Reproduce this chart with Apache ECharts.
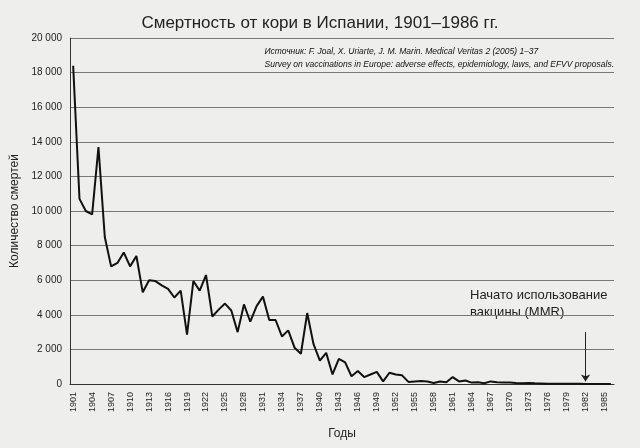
<!DOCTYPE html><html><head><meta charset="utf-8"><script src="https://cdn.jsdelivr.net/npm/echarts@6/dist/echarts.min.js"></script></head><body style="margin:0;background:#eeeeec"><div id="c" style="width:640px;height:448px"></div><script>
const years=[];for(let y=1901;y<=1986;y++)years.push(String(y));
const deaths=[18400,10700,10000,9800,13700,8500,6800,7000,7600,6800,7400,5300,6000,5950,5700,5500,5000,5400,2850,5950,5400,6300,3900,4300,4650,4250,3000,4600,3600,4500,5050,3700,3700,2750,3100,2100,1750,4100,2300,1350,1800,550,1450,1250,450,750,400,550,700,150,650,550,500,120,150,180,150,60,150,100,400,150,200,80,100,40,150,100,90,80,60,50,60,40,30,20,20,15,10,10,8,5,5,4,3,2];
const yTicks=[0,2000,4000,6000,8000,10000,12000,14000,16000,18000,20000];
const ch=echarts.init(document.getElementById('c'));
ch.setOption({backgroundColor:'#eeeeec',textStyle:{fontFamily:'Liberation Sans'},
title:{text:'Смертность от кори в Испании, 1901–1986 гг.',left:'center',top:10,textStyle:{fontSize:17,fontWeight:'normal',color:'#222'}},
graphic:[{type:'text',right:26,top:45,style:{text:'Источник: F. Joal, X. Uriarte, J. M. Marin. Medical Veritas 2 (2005) 1–37\nSurvey on vaccinations in Europe: adverse effects, epidemiology, laws, and EFVV proposals.',fontSize:8.5,lineHeight:13,fill:'#111',align:'right',fontStyle:'italic'}},
{type:'text',left:470,top:287,style:{text:'Начато использование\nвакцины (MMR)',fontSize:13,lineHeight:17,fill:'#222'}}],
grid:{left:70,right:26,top:38,bottom:64},
xAxis:{type:'category',data:years,boundaryGap:true,name:'Годы',nameLocation:'middle',nameGap:44,nameTextStyle:{fontSize:12,color:'#222'},
axisLine:{lineStyle:{color:'#333'}},axisTick:{interval:0,alignWithLabel:true,lineStyle:{color:'#555'}},axisLabel:{interval:2,rotate:90,fontSize:9,color:'#222'}},
yAxis:{type:'value',min:0,max:20000,interval:2000,name:'Количество смертей',nameLocation:'middle',nameGap:44,nameTextStyle:{fontSize:12,color:'#222'},
axisLine:{show:true,lineStyle:{color:'#333'}},axisLabel:{fontSize:10,color:'#222',formatter:v=>yTicks.includes(v)?String(v).replace(/\B(?=(\d{3})+(?!\d))/g,' '):''},splitLine:{lineStyle:{color:'#777'}}},
series:[{type:'line',data:deaths,symbol:'none',lineStyle:{color:'#111',width:2},
markLine:{silent:true,symbol:['none','arrow'],symbolSize:7,label:{show:false},lineStyle:{color:'#222',type:'solid',width:1},data:[[{coord:['1982',3000]},{coord:['1982',150]}]]}}]});
</script></body></html>
